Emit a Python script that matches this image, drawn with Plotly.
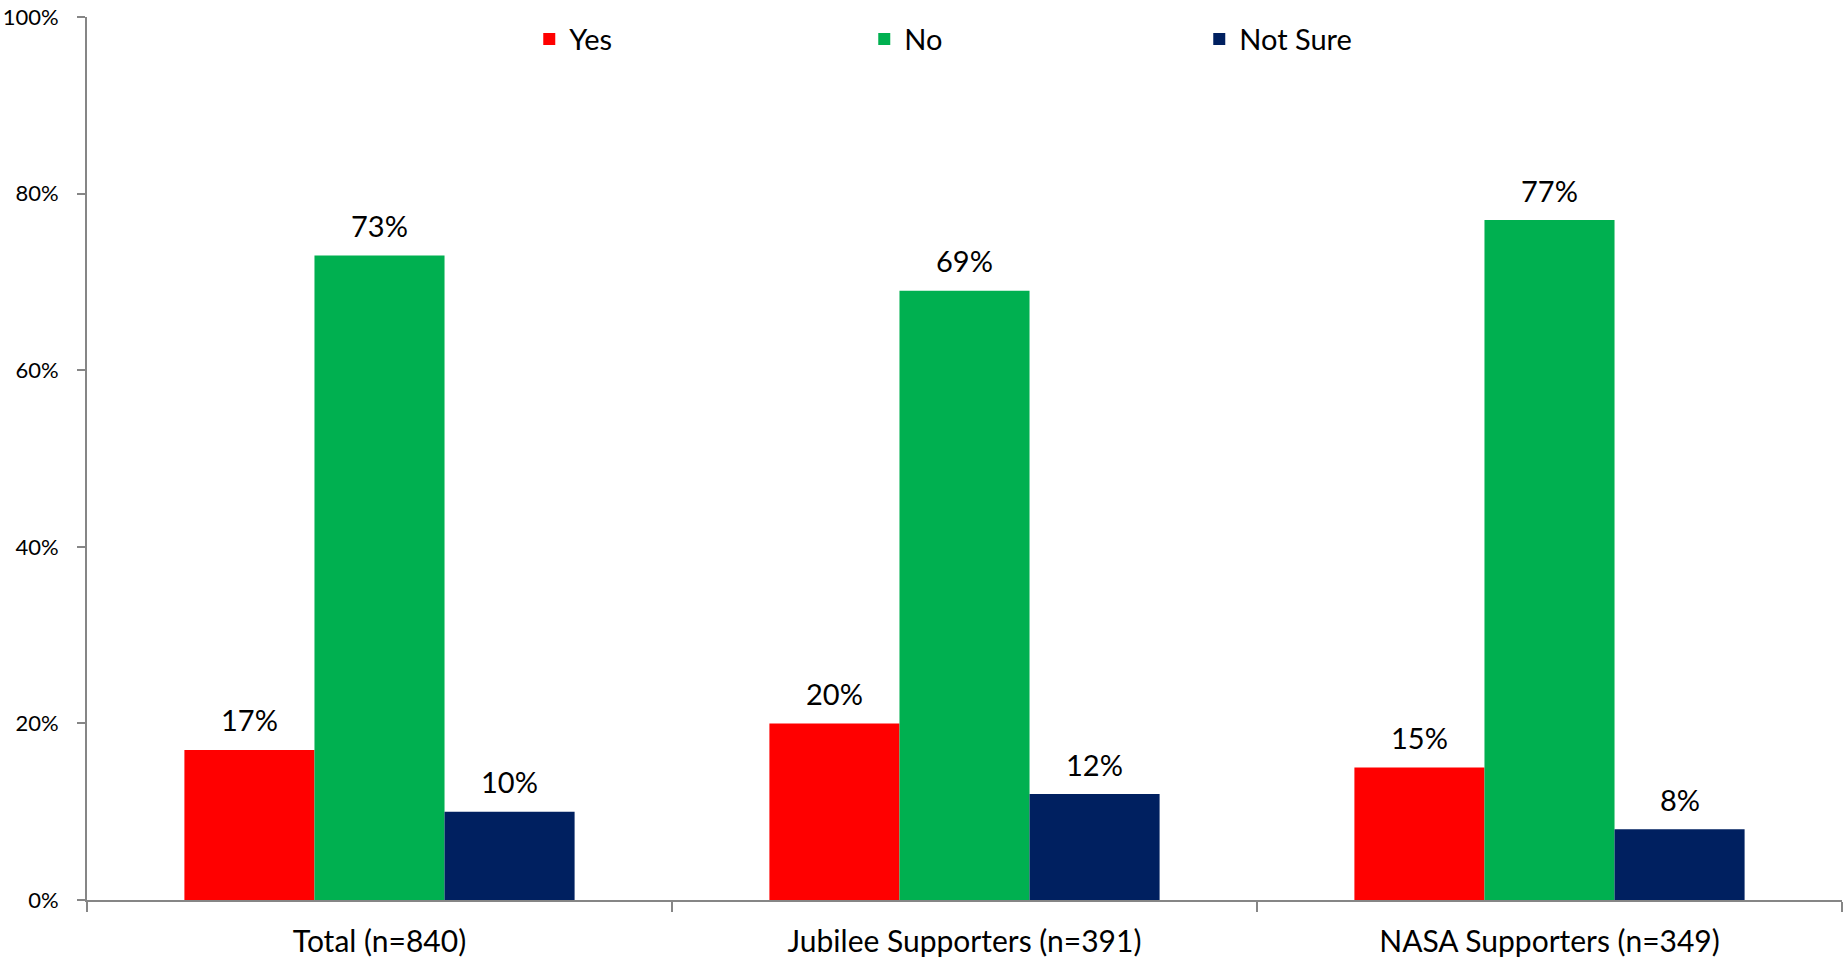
import plotly.graph_objects as go

categories = ["Total (n=840)", "Jubilee Supporters (n=391)", "NASA Supporters (n=349)"]
yes = [17, 20, 15]
no = [73, 69, 77]
not_sure = [10, 12, 8]
series = [("Yes", yes, "#FF0000"), ("No", no, "#00B050"), ("Not Sure", not_sure, "#002060")]

FONT = "Lato, 'Open Sans', sans-serif"

fig = go.Figure()
offsets = [-130, 0, 130]
for (name, vals, color), dx in zip(series, offsets):
    fig.add_trace(go.Bar(
        name=name, x=categories, y=vals, marker=dict(color=color, line=dict(width=0)),
    ))
    for c, v in zip(categories, vals):
        fig.add_annotation(x=c, y=v, text=f"{v}%", showarrow=False, xshift=dx, yshift=30,
                           yanchor="middle", font=dict(family=FONT, size=29, color="black"))

fig.update_layout(
    width=1845, height=959,
    margin=dict(l=87, r=3, t=17, b=59),
    barmode="group", bargap=0.333, bargroupgap=0,
    plot_bgcolor="white", paper_bgcolor="white",
    font=dict(family=FONT, color="black"),
    legend=dict(orientation="h", x=0.252, y=0.975, xanchor="left", yanchor="middle",
                entrywidth=290, entrywidthmode="pixels",
                font=dict(family=FONT, size=29, color="black"), bgcolor="rgba(0,0,0,0)"),
    xaxis=dict(showline=True, linecolor="#868686", linewidth=2, ticks="outside",
               tickson="boundaries", ticklen=10, tickcolor="#868686", tickwidth=2,
               ticklabelstandoff=14, automargin=False,
               tickfont=dict(family=FONT, size=30, color="black"), showgrid=False),
    yaxis=dict(range=[0, 100], dtick=20, ticksuffix="%", showline=True, linecolor="#868686",
               linewidth=2, ticks="outside", ticklen=8, tickcolor="#868686", tickwidth=2,
               ticklabelstandoff=14, automargin=False,
               tickfont=dict(family=FONT, size=22, color="black"), showgrid=False, zeroline=False),
)
fig.write_html("out.html", config={"displayModeBar": False},
               post_script="document.body.style.margin='0';document.body.style.overflow='hidden';")
